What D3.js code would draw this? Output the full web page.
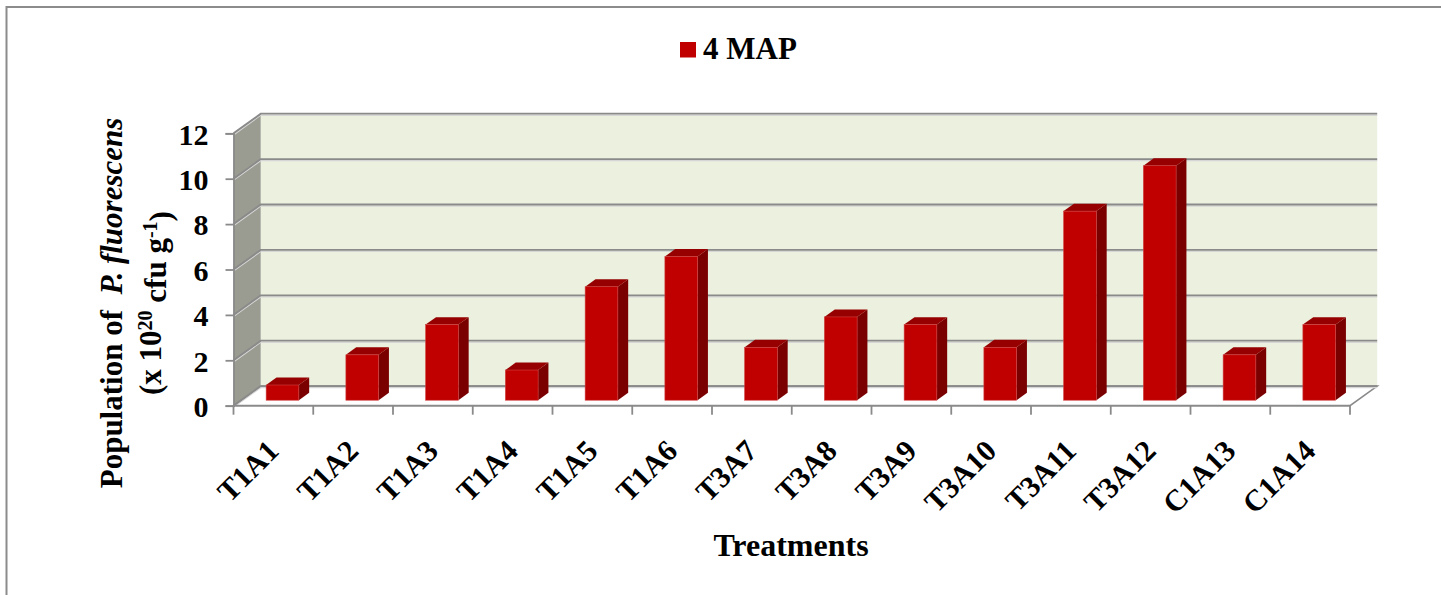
<!DOCTYPE html>
<html>
<head>
<meta charset="utf-8">
<script src="https://cdn.jsdelivr.net/npm/d3@7/dist/d3.min.js"></script>
<style>
  html, body { margin: 0; padding: 0; background: #ffffff; }
  svg { display: block; }
  text { font-family: "Liberation Serif", "Times New Roman", serif; font-weight: bold; fill: #000; }
</style>
</head>
<body>
<svg id="chart" width="1441" height="595"></svg>
<script>
// ---- data ----
const categories = ["T1A1","T1A2","T1A3","T1A4","T1A5","T1A6","T3A7","T3A8","T3A9","T3A10","T3A11","T3A12","C1A13","C1A14"];
const values = [0.67, 2.0, 3.33, 1.33, 5.0, 6.33, 2.33, 3.67, 3.33, 2.33, 8.33, 10.33, 2.0, 3.33];
const yTicks = [0, 2, 4, 6, 8, 10, 12];
const seriesName = "4 MAP";
const xTitle = "Treatments";

// ---- layout ----
const svg = d3.select("#chart");
const W = 1441, H = 595;
const depthX = 27.2, depthY = -19.6;   // 3-D depth offset of the back wall
const barFront = 0.28, barBack = 0.66;  // depth fractions of the bars

const x = d3.scaleBand().domain(categories).range([233.5, 1350]);
const y = d3.scaleLinear().domain([0, 12]).range([405.7, 133.3]);
const bw = x.bandwidth();
const barW = bw * 0.41;

const gridCol = "#8a8a8a";
const wallCol = "#ebf1de";
const sideWallCol = "#9a9c91";

// outer chart border
svg.append("rect").attr("x", 6.5).attr("y", 7).attr("width", W + 20).attr("height", H + 20)
  .attr("fill", "none").attr("stroke", "#8c8c8c").attr("stroke-width", 2);

const xl = x.range()[0], xr = x.range()[1];
const yTop = y(12), yBot = y(0);

// back wall
svg.append("polygon")
  .attr("points", [[xl + depthX, yTop + depthY], [xr + depthX, yTop + depthY], [xr + depthX, yBot + depthY], [xl + depthX, yBot + depthY]].join(" "))
  .attr("fill", wallCol);

// left side wall
svg.append("polygon")
  .attr("points", [[xl, yTop], [xl + depthX, yTop + depthY], [xl + depthX, yBot + depthY], [xl, yBot]].join(" "))
  .attr("fill", sideWallCol);

// floor
svg.append("polygon")
  .attr("points", [[xl, yBot], [xr, yBot], [xr + depthX, yBot + depthY], [xl + depthX, yBot + depthY]].join(" "))
  .attr("fill", "#ffffff").attr("stroke", gridCol).attr("stroke-width", 1.6);

// gridlines (side wall diagonal + back wall horizontal), with faint light shadow line
const grid = svg.append("g");
yTicks.forEach(t => {
  const yy = y(t);
  grid.append("path")
    .attr("d", `M${xl},${yy + 1.6} L${xl + depthX},${yy + depthY + 1.6} L${xr + depthX},${yy + depthY + 1.6}`)
    .attr("fill", "none").attr("stroke", "#d6d6d6").attr("stroke-width", 1.2);
  grid.append("path")
    .attr("d", `M${xl},${yy} L${xl + depthX},${yy + depthY} L${xr + depthX},${yy + depthY}`)
    .attr("fill", "none").attr("stroke", gridCol).attr("stroke-width", 1.8);
});

// y axis (front edge)
const yAxis = d3.axisLeft(y).tickValues(yTicks).tickSize(8).tickPadding(17).tickFormat(d3.format("d"));
const gy = svg.append("g").attr("transform", `translate(${xl},0)`).call(yAxis);
gy.select(".domain").attr("stroke", gridCol).attr("stroke-width", 1.8);
gy.selectAll(".tick line").attr("stroke", gridCol).attr("stroke-width", 1.8);
gy.selectAll(".tick text").style("font-size", "30px").style("font-family", "'Liberation Serif','Times New Roman',serif").style("font-weight", "bold").attr("dy", "0.36em");

// x axis (front floor edge) with ticks at category boundaries
svg.append("line").attr("x1", xl).attr("x2", xr).attr("y1", yBot).attr("y2", yBot)
  .attr("stroke", gridCol).attr("stroke-width", 1.8);
const bounds = categories.map(c => x(c)).concat([xr]);
svg.append("g").selectAll("line").data(bounds).join("line")
  .attr("x1", d => d).attr("x2", d => d).attr("y1", yBot).attr("y2", yBot + 9)
  .attr("stroke", gridCol).attr("stroke-width", 1.8);

// x labels rotated -45
svg.append("g").selectAll("text").data(categories).join("text")
  .attr("transform", c => `translate(${x(c) + bw / 2 + 7},${yBot + 47}) rotate(-45)`)
  .attr("text-anchor", "end")
  .style("font-size", "30px")
  .text(c => c);

// bars
const dxB = (barBack - barFront) * depthX, dyB = (barBack - barFront) * depthY;
const bars = svg.append("g");
categories.forEach((c, i) => {
  const v = values[i];
  const xf = x(c) + (bw - barW) / 2 + barFront * depthX + 1.5;
  const yb = y(0) + barFront * depthY;
  const yt = y(v) + barFront * depthY;
  const g = bars.append("g");
  // side
  g.append("polygon")
    .attr("points", [[xf + barW, yb], [xf + barW + dxB, yb + dyB], [xf + barW + dxB, yt + dyB], [xf + barW, yt]].join(" "))
    .attr("fill", "#7a0000");
  // top
  g.append("polygon")
    .attr("points", [[xf, yt], [xf + barW, yt], [xf + barW + dxB, yt + dyB], [xf + dxB, yt + dyB]].join(" "))
    .attr("fill", "#960000");
  // front
  g.append("rect").attr("x", xf).attr("y", yt).attr("width", barW).attr("height", yb - yt)
    .attr("fill", "#c00000").attr("stroke", "#d04040").attr("stroke-width", 0.6);
});

// legend
svg.append("rect").attr("x", 680).attr("y", 42).attr("width", 16).attr("height", 15.5).attr("fill", "#c00000");
svg.append("text").attr("x", 703).attr("y", 58.5).style("font-size", "31px").text(seriesName);

// x title
svg.append("text").attr("x", 791).attr("y", 556).attr("text-anchor", "middle").style("font-size", "32px").text(xTitle);

// y title (two lines, rotated)
const t1 = svg.append("text").attr("transform", "translate(122,303) rotate(-90)").attr("text-anchor", "middle").style("font-size", "31px");
t1.append("tspan").text("Population of\u00A0 ");
t1.append("tspan").style("font-style", "italic").text("P. fluorescens");

const t2 = svg.append("text").attr("transform", "translate(161,303) rotate(-90)").attr("text-anchor", "middle").style("font-size", "31px");
t2.append("tspan").text("(x 10");
t2.append("tspan").attr("dy", "-0.45em").style("font-size", "20px").text("20");
t2.append("tspan").attr("dy", "0.45em").text(" cfu g");
t2.append("tspan").attr("dy", "-0.45em").style("font-size", "20px").text("-1");
t2.append("tspan").attr("dy", "0.45em").text(")");
</script>
</body>
</html>
